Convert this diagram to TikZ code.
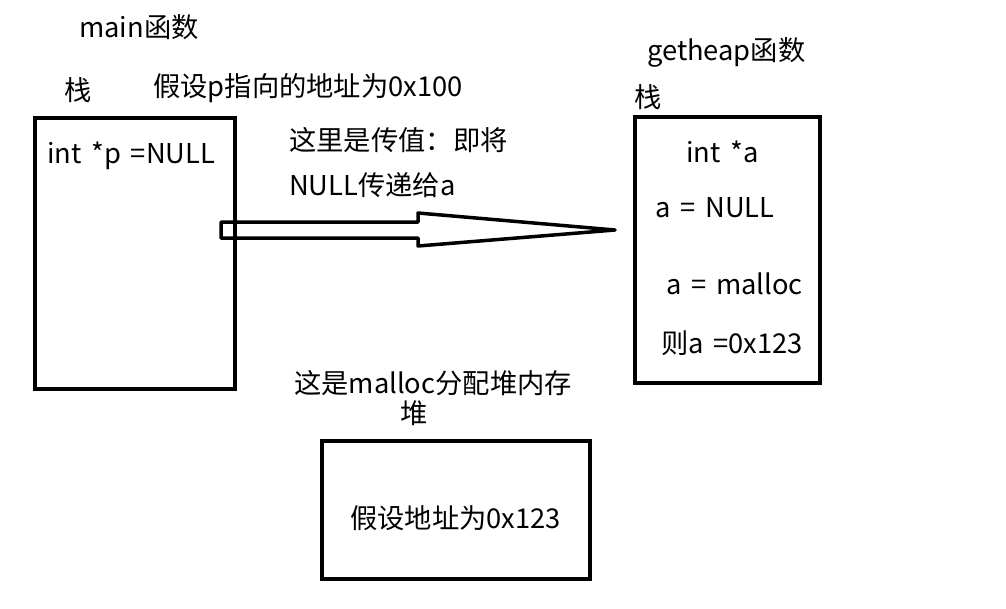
\documentclass[tikz,border=0pt]{standalone}
\usepackage{fontspec}
\setmainfont[WordSpace=1.6]{Noto Sans CJK SC}
\begin{document}
\begin{tikzpicture}[x=1pt,y=-1pt,
  box/.style={draw,line width=4pt},
  lbl/.style={anchor=west,inner sep=0pt,font=\fontsize{27.3}{32}\selectfont}]
\useasboundingbox (0,0) rectangle (1006,608);
% boxes
\draw[box] (35,118) rectangle (235,389);
\draw[box] (635,117) rectangle (820,383);
\draw[box] (322,441) rectangle (590,579);
% outline arrow
\coordinate (s1) at (221,222);
\coordinate (s2) at (418,222);
\coordinate (h1) at (418,213);
\coordinate (tip) at (615,230);
\coordinate (h2) at (418,246);
\coordinate (s3) at (418,238);
\coordinate (s4) at (221,238);
\draw[line width=3.5pt,line join=round] (s1) -- (s2) -- (h1) -- (tip) -- (h2) -- (s3) -- (s4) -- cycle;
% labels
\node[lbl] (mainf) at (79,27) {main函数};
\node[lbl] (zhan1) at (64,90) {栈};
\node[lbl] (addr) at (153,88) {假设p指向的地址为0x100};
\node[lbl] (intp) at (47,156) {int *p =NULL};
\node[lbl] (pass1) at (289,140) {这里是传值：即将};
\node[lbl] (pass2) at (289,185) {NULL传递给a};
\node[lbl] (getf) at (647,52) {getheap函数};
\node[lbl] (zhan2) at (634,97) {栈};
\node[lbl] (inta) at (686,152) {int *a};
\node[lbl] (anull) at (655,208) {a = NULL};
\node[lbl] (amal) at (666,284) {a = malloc};
\node[lbl] (aval) at (661,343) {则a =0x123};
\node[lbl] (heapt) at (294,383) {这是malloc分配堆内存};
\node[lbl] (dui) at (400,413) {堆};
\node[lbl] (haddr) at (350,518) {假设地址为0x123};
\end{tikzpicture}
\end{document}
